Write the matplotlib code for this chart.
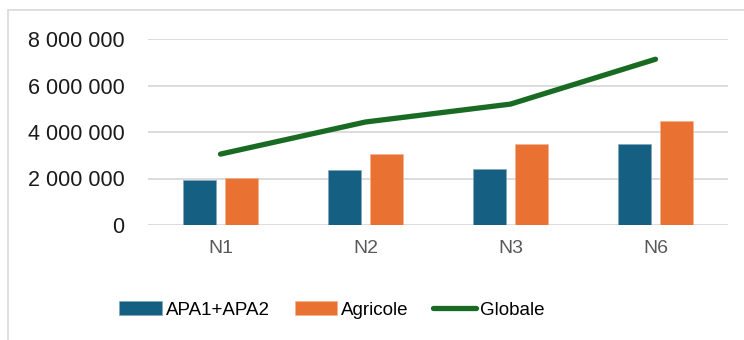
import matplotlib.pyplot as plt
import numpy as np
from matplotlib.patches import Rectangle
from matplotlib.ticker import FuncFormatter

categories = ["N1", "N2", "N3", "N6"]
apa = [1920000, 2370000, 2400000, 3470000]
agricole = [2030000, 3070000, 3470000, 4460000]
globale = [3050000, 4430000, 5200000, 7130000]

blue = "#156082"
orange = "#E97132"
green = "#196B24"
grid_gray = "#D9D9D9"

plt.rcParams['font.family'] = ['Liberation Sans', 'DejaVu Sans']

fig = plt.figure(figsize=(7.44, 3.4), dpi=100)
ax = fig.add_axes([148 / 744, 1 - 225 / 340, (728 - 148) / 744, (225 - 39) / 340])

x = np.arange(len(categories))
w = 0.228
off = 0.145
b1 = ax.bar(x - off, apa, w, color=blue, edgecolor="#7fa6b8", linewidth=0.4, zorder=3)
b2 = ax.bar(x + off, agricole, w, color=orange, edgecolor="#f4b08a", linewidth=0.4, zorder=3)
ln, = ax.plot(x, globale, color=green, linewidth=3.8, solid_capstyle="round", zorder=4)

ax.set_xlim(-0.5, len(categories) - 0.5)
ax.set_ylim(0, 8000000)
ax.set_yticks(np.arange(0, 8000001, 2000000))
ax.yaxis.set_major_formatter(FuncFormatter(lambda v, p: f"{int(v):,}".replace(",", " ")))
ax.set_xticks(x)
ax.set_xticklabels(categories)

ax.grid(axis="y", color=grid_gray, linewidth=1.3, zorder=0)
for s in ["top", "right", "left", "bottom"]:
    ax.spines[s].set_visible(False)
ax.tick_params(axis="y", length=0, pad=17, labelsize=15.5, labelcolor="#1a1a1a")
ax.tick_params(axis="x", length=0, pad=11, labelsize=14, labelcolor="#595959")

fig.legend([b1, b2, ln], ["APA1+APA2", "Agricole", "Globale"],
           loc="center", bbox_to_anchor=(332 / 744, 1 - 310 / 340), ncol=3, frameon=False,
           fontsize=13.5, handlelength=2.25, handleheight=0.75, handletextpad=0.25,
           columnspacing=1.3)

# chart area border
fig.patches.append(Rectangle((8 / 744, -0.1), 1.1, 1 - 10 / 340 + 0.1, transform=fig.transFigure,
                             fill=False, edgecolor="#D9D9D9", linewidth=1.2))

fig.savefig("out.png", dpi=100, facecolor="white")
